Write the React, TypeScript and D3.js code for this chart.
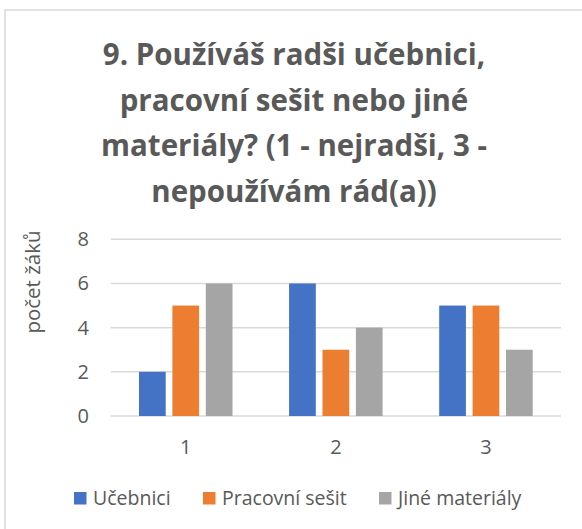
import React from 'react';
import * as d3 from 'd3';

const categories = ['1', '2', '3'];
const seriesNames = ['Učebnici', 'Pracovní sešit', 'Jiné materiály'];
const ucebnici = [2, 6, 5];
const pracovniSesit = [5, 3, 5];
const jineMaterialy = [6, 4, 3];
const yTicks = [0, 2, 4, 6, 8];
const titleLines = [
  '9. Používáš radši učebnici,',
  'pracovní sešit nebo jiné',
  'materiály? (1 - nejradši, 3 -',
  'nepoužívám rád(a))',
];
const colors = ['#4472C4', '#ED7D31', '#A5A5A5'];

const W = 582, H = 529;
const font = 'Open Sans, sans-serif';
const textColor = '#595959';

const App: React.FC = () => {
  const values = [ucebnici, pracovniSesit, jineMaterialy];
  const x0 = d3.scaleBand().domain(categories).range([110.7, 561]).padding(0);
  const groupW = x0.bandwidth() * 0.623;
  const x1 = d3.scaleBand().domain(seriesNames).range([-groupW / 2, groupW / 2]).paddingInner(0.2);
  const y = d3.scaleLinear().domain([0, 8]).range([416, 239.3]);

  // legend layout (square x)
  const legendX = [74, 203, 379];

  return (
    <svg width={W} height={H} style={{ position: 'absolute', left: 0, top: 0 }}>
      <rect x={0} y={0} width={W} height={H} fill="#fff" />
      <rect x={5} y={10} width={W + 20} height={H + 20} fill="#fff" stroke="#d9d9d9" strokeWidth={1.5} />
      {titleLines.map((t, i) => (
        <text key={i} x={294} y={65 + i * 45.6} textAnchor="middle" fontFamily={font}
          fontWeight="bold" fontSize={29.5} fill={textColor}>{t}</text>
      ))}
      {yTicks.map(t => (
        <g key={t}>
          <line x1={110.7} x2={561} y1={y(t)} y2={y(t)} stroke="#d9d9d9" strokeWidth={1.5} />
          <text x={89} y={y(t)} dy="0.35em" textAnchor="end" fontFamily={font} fontSize={20} fill={textColor}>{t}</text>
        </g>
      ))}
      <text transform={`translate(40,282) rotate(-90)`} textAnchor="middle" fontFamily={font}
        fontSize={20.5} fill={textColor}>počet žáků</text>
      {categories.map((c, ci) => {
        const cx = (x0(c) || 0) + x0.bandwidth() / 2;
        return (
          <g key={c}>
            {seriesNames.map((s, si) => (
              <rect key={s} x={cx + (x1(s) || 0)} width={x1.bandwidth()}
                y={y(values[si][ci])} height={y(0) - y(values[si][ci])} fill={colors[si]} />
            ))}
            <text x={cx} y={447} dy="0.35em" textAnchor="middle" fontFamily={font} fontSize={20} fill={textColor}>{c}</text>
          </g>
        );
      })}
      {seriesNames.map((s, i) => (
        <g key={s}>
          <rect x={legendX[i]} y={492} width={12.5} height={12.5} fill={colors[i]} />
          <text x={legendX[i] + 19} y={498} dy="0.35em" fontFamily={font} fontSize={19.5} fill={textColor}>{s}</text>
        </g>
      ))}
    </svg>
  );
};

export default App;
